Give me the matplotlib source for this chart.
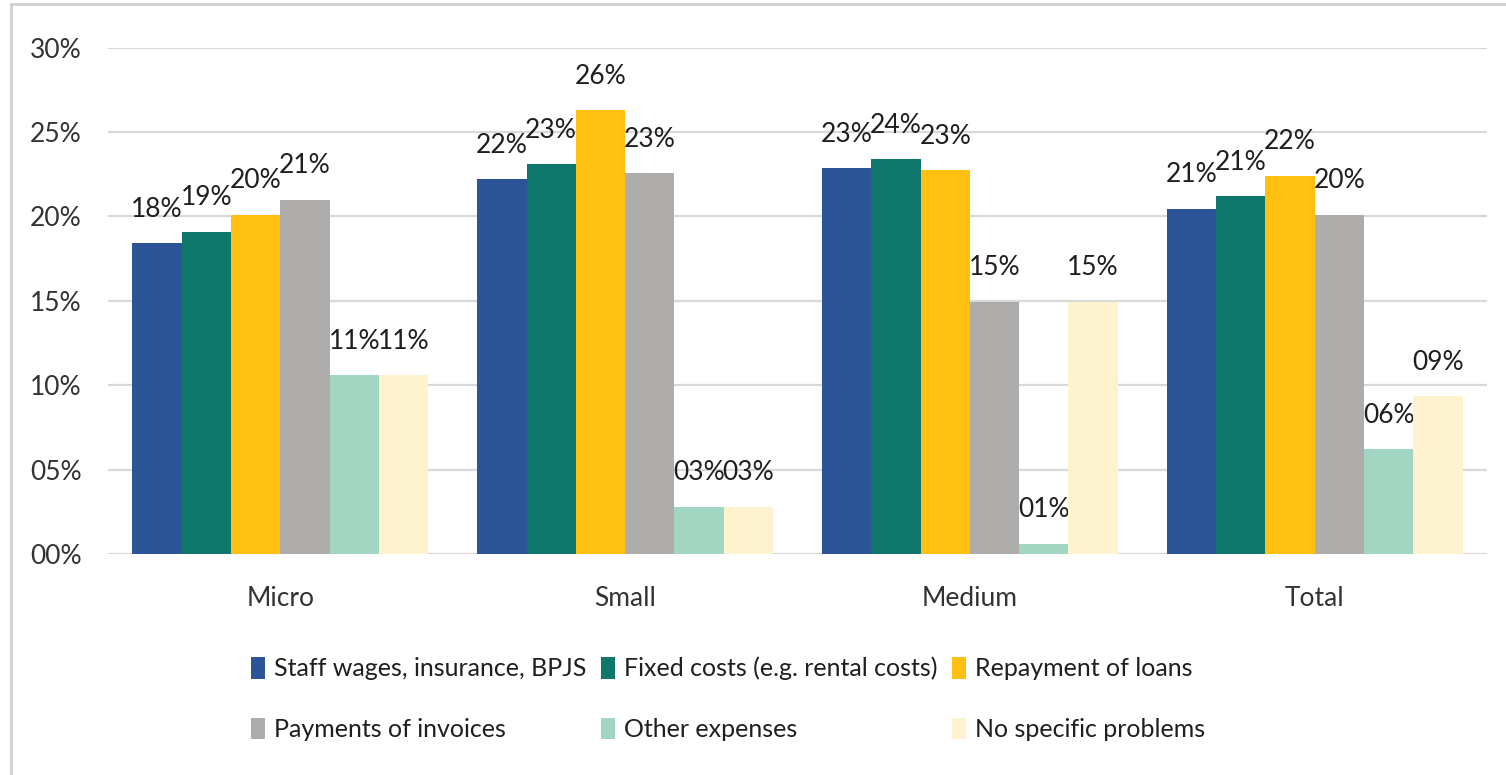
import numpy as np
import matplotlib
matplotlib.use('Agg')
import matplotlib.pyplot as plt
from matplotlib.patches import Patch
from matplotlib.lines import Line2D

plt.rcParams['font.family'] = ['Lato', 'DejaVu Sans']

categories = ['Micro', 'Small', 'Medium', 'Total']
series = ['Staff wages, insurance, BPJS', 'Fixed costs (e.g. rental costs)',
          'Repayment of loans', 'Payments of invoices', 'Other expenses',
          'No specific problems']
colors = ['#2B5597', '#0E766B', '#FFC012', '#AFADAC', '#A3D5C3', '#FEF3CF']

staff = [18.4, 22.2, 22.85, 20.45]
fixed = [19.1, 23.1, 23.4, 21.2]
loans = [20.1, 26.3, 22.75, 22.4]
invoices = [21.0, 22.55, 14.95, 20.1]
other = [10.6, 2.8, 0.6, 6.2]
no_problem = [10.6, 2.8, 14.95, 9.35]
values = [staff, fixed, loans, invoices, other, no_problem]

labels = [['18%', '22%', '23%', '21%'],
          ['19%', '23%', '24%', '21%'],
          ['20%', '26%', '23%', '22%'],
          ['21%', '23%', '15%', '20%'],
          ['11%', '03%', '01%', '06%'],
          ['11%', '03%', '15%', '09%']]

yticks = [0, 5, 10, 15, 20, 25, 30]
ytick_labels = ['00%', '05%', '10%', '15%', '20%', '25%', '30%']

fig = plt.figure(figsize=(15.06, 7.75), dpi=100)
ax = fig.add_axes([108 / 1506, 1 - 554 / 775, (1487 - 108) / 1506, (554 - 47.7) / 775])

x = np.arange(len(categories))
w = 0.143
handles = []
for i, (vals, col) in enumerate(zip(values, colors)):
    pos = x + (i - 2.5) * w
    ax.bar(pos, vals, width=w, color=col, zorder=3)
    for px_, v, lab in zip(pos, vals, labels[i]):
        ax.annotate(lab, (px_, v), xytext=(0, 24.5), textcoords='offset points',
                    ha='center', va='center', fontsize=19, color='#1F1F1F')
    handles.append(Patch(facecolor=col, edgecolor='none'))

ax.set_xlim(-0.5, 3.5)
ax.set_ylim(0, 30)
ax.set_yticks(yticks)
ax.set_yticklabels(ytick_labels)
ax.set_xticks(x)
ax.set_xticklabels(categories)
ax.yaxis.grid(True, color='#D9D9D9', linewidth=1.6, zorder=0)
ax.set_axisbelow(True)
for s in ax.spines.values():
    s.set_visible(False)
ax.tick_params(axis='both', length=0, labelsize=19, colors='#333333')
ax.tick_params(axis='y', pad=19)
ax.tick_params(axis='x', pad=23)

# legend: reorder so rows read left to right like the original
order = [0, 3, 1, 4, 2, 5]
fig.legend([handles[k] for k in order], [series[k] for k in order],
           loc='center', bbox_to_anchor=(0.4834, 1 - 699 / 775), ncol=3,
           frameon=False, fontsize=18, handlelength=0.55, handleheight=0.95,
           handletextpad=0.35, columnspacing=0.6, labelspacing=1.5,
           labelcolor='#1F1F1F')

# chart frame
fig.add_artist(Line2D([11 / 1506, 11 / 1506], [0, 1 - 4 / 775], color='#D0D0D0', linewidth=2))
fig.add_artist(Line2D([11 / 1506, 1], [1 - 4 / 775, 1 - 4 / 775], color='#D0D0D0', linewidth=2))

fig.savefig('out.png', dpi=100)
